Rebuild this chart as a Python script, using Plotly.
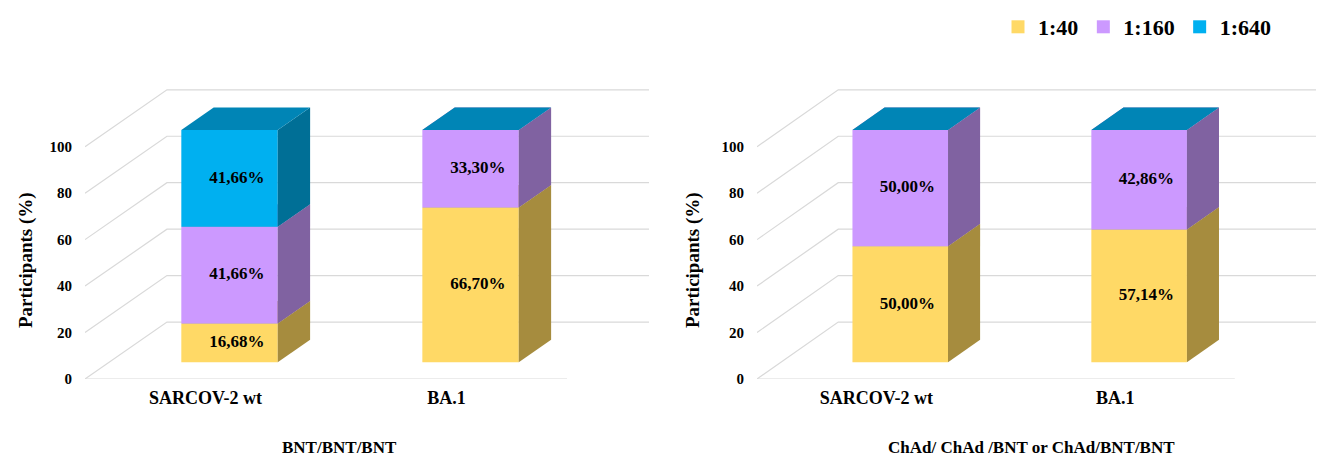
import plotly.graph_objects as go

# ---------------- data ----------------
categories = ["SARCOV-2 wt", "BA.1"]
series_names = ["1:40", "1:160", "1:640"]
panel_titles = ["BNT/BNT/BNT", "ChAd/ ChAd /BNT or ChAd/BNT/BNT"]
# values per panel, per series, per category
left_1_40 = [16.68, 66.70]
left_1_160 = [41.66, 33.30]
left_1_640 = [41.66, 0.0]
right_1_40 = [50.00, 57.14]
right_1_160 = [50.00, 42.86]
right_1_640 = [0.0, 0.0]
yticks = [0, 20, 40, 60, 80, 100]

panels = [
    [left_1_40, left_1_160, left_1_640],
    [right_1_40, right_1_160, right_1_640],
]

# ---------------- style ----------------
FONT = "Liberation Serif, Times New Roman, Times, serif"
front_cols = ["#FFD966", "#CC99FF", "#00B0F0"]
side_cols = ["#A68C3E", "#8062A1", "#006F96"]
top_cols = ["#B39A4A", "#9A7BC0", "#0085B6"]
grid_col = "#D9D9D9"

# oblique projection (depth) in axis units
DEPTH_X = 0.34
DEPTH_Y = 24.5
F_FRONT = 0.293
F_BACK = 0.688
BAR_W = 0.40

fig = go.Figure()

W, H = 1317, 461
plot_top, plot_bottom = 87, 379
px_per_unit = 2.323
y_max = (plot_bottom - plot_top) / px_per_unit
domains = [[85 / W, 649 / W], [757 / W, 1316 / W]]
x_lo = -0.5
x_hi = len(categories) - 0.5 + DEPTH_X

for p, vals in enumerate(panels):
    xa = "x" if p == 0 else "x2"
    ya = "y" if p == 0 else "y2"
    # --- gridlines: diagonal on the left side wall + horizontal on back wall
    for v in yticks:
        fig.add_trace(go.Scatter(
            x=[x_lo, x_lo + DEPTH_X, x_hi], y=[v, v + DEPTH_Y, v + DEPTH_Y],
            mode="lines", line=dict(color=grid_col, width=1.2),
            hoverinfo="skip", showlegend=False, xaxis=xa, yaxis=ya))
    # front floor edge
    fig.add_trace(go.Scatter(
        x=[x_lo, len(categories) - 0.5], y=[0, 0],
        mode="lines", line=dict(color=grid_col, width=1.2),
        hoverinfo="skip", showlegend=False, xaxis=xa, yaxis=ya))

    # --- 3D bars
    for c in range(len(categories)):
        base = 0.0
        for s in range(len(series_names)):
            v = vals[s][c]
            xl = c - BAR_W / 2 + F_FRONT * DEPTH_X
            xr = c + BAR_W / 2 + F_FRONT * DEPTH_X
            ddx = (F_BACK - F_FRONT) * DEPTH_X
            ddy = (F_BACK - F_FRONT) * DEPTH_Y
            y0 = base + F_FRONT * DEPTH_Y
            y1 = base + v + F_FRONT * DEPTH_Y
            if v > 0:
                # front face
                fig.add_trace(go.Scatter(
                    x=[xl, xr, xr, xl, xl], y=[y0, y0, y1, y1, y0],
                    fill="toself", fillcolor=front_cols[s], mode="lines",
                    line=dict(width=0, color=front_cols[s]),
                    hoverinfo="skip", showlegend=False, xaxis=xa, yaxis=ya))
                # side face
                fig.add_trace(go.Scatter(
                    x=[xr, xr + ddx, xr + ddx, xr, xr],
                    y=[y0, y0 + ddy, y1 + ddy, y1, y0],
                    fill="toself", fillcolor=side_cols[s], mode="lines",
                    line=dict(width=0, color=side_cols[s]),
                    hoverinfo="skip", showlegend=False, xaxis=xa, yaxis=ya))
            # top face (zero-height segments still draw their top, as in the source)
            fig.add_trace(go.Scatter(
                x=[xl, xr, xr + ddx, xl + ddx, xl],
                y=[y1, y1, y1 + ddy, y1 + ddy, y1],
                fill="toself", fillcolor=top_cols[s],
                mode="lines", line=dict(width=0, color=top_cols[s]),
                hoverinfo="skip", showlegend=False, xaxis=xa, yaxis=ya))
            base += v
        # value labels
        base = 0.0
        lx, ly, lt = [], [], []
        for s in range(len(series_names)):
            v = vals[s][c]
            if v > 0:
                lx.append(c + F_FRONT * DEPTH_X + 0.03)
                ly.append(base + v / 2 + F_FRONT * DEPTH_Y)
                lt.append(f"{v:.2f}".replace(".", ",") + "%")
            base += v
        fig.add_trace(go.Scatter(
            x=lx, y=ly, text=lt, mode="text",
            textfont=dict(family=FONT, size=17, color="black", weight="bold"),
            hoverinfo="skip", showlegend=False, xaxis=xa, yaxis=ya))

# legend entries
for s, name in enumerate(series_names):
    fig.add_trace(go.Scatter(
        x=[None], y=[None], mode="markers", name=name,
        marker=dict(symbol="square", size=13, color=front_cols[s]),
        showlegend=True))

axis_common_x = dict(range=[x_lo, x_hi], tickmode="array",
                     tickvals=list(range(len(categories))), ticktext=categories,
                     showgrid=False, zeroline=False, showline=False, ticks="",
                     ticklabelstandoff=6,
                     tickfont=dict(family=FONT, size=18, color="black", weight="bold"))
axis_common_y = dict(range=[0, y_max], tickmode="array", tickvals=yticks,
                     showgrid=False, zeroline=False, showline=False, ticks="",
                     ticklabelstandoff=12,
                     tickfont=dict(family=FONT, size=15, color="black", weight="bold"))

fig.update_layout(
    width=W, height=H,
    margin=dict(l=0, r=0, t=plot_top, b=H - plot_bottom),
    paper_bgcolor="white", plot_bgcolor="white",
    xaxis=dict(domain=domains[0], anchor="y", **axis_common_x),
    xaxis2=dict(domain=domains[1], anchor="y2", **axis_common_x),
    yaxis=dict(domain=[0, 1], anchor="x", **axis_common_y),
    yaxis2=dict(domain=[0, 1], anchor="x2", **axis_common_y),
    showlegend=True,
    legend=dict(orientation="h", x=1276 / W, xanchor="right",
                yref="container", y=1 - 6 / H, yanchor="top",
                font=dict(family=FONT, size=22, color="black", weight="bold"),
                itemwidth=30, bgcolor="rgba(0,0,0,0)"),
)

ann_font = dict(family=FONT, size=19, color="black", weight="bold")
yt_y = (plot_bottom - 260) / (plot_bottom - plot_top)
for xpix in (26, 693):
    fig.add_annotation(text="Participants (%)", xref="paper", yref="paper",
                       x=xpix / W, y=yt_y, textangle=-90, showarrow=False,
                       font=ann_font, xanchor="center", yanchor="middle")
sub_y = (plot_bottom - 447) / (plot_bottom - plot_top)
for xpix, t in zip((339, 1031), panel_titles):
    fig.add_annotation(text=t, xref="paper", yref="paper",
                       x=xpix / W, y=sub_y, showarrow=False,
                       font=dict(family=FONT, size=17, color="black", weight="bold"),
                       xanchor="center", yanchor="middle")

fig.write_html("out.html")
